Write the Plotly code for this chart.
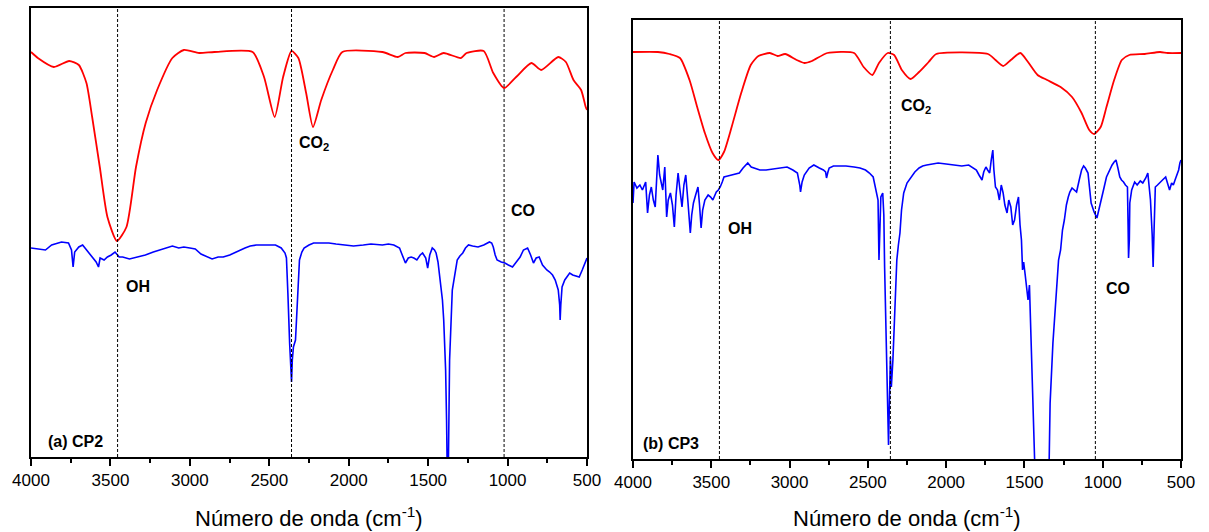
import plotly.graph_objects as go

W, H = 1209, 532

# ---------------- Data (transmittance, arbitrary units) ----------------
# Panel (a) CP2
cp2_red_wn = [4000, 3957, 3856, 3760, 3699, 3651, 3615, 3567, 3519, 3459, 3399, 3339, 3278, 3206,
              3110, 3038, 2942, 2846, 2605, 2533, 2466, 2413, 2360, 2317, 2268, 2225, 2173, 2100,
              2040, 1788, 1691, 1643, 1523, 1462, 1402, 1294, 1258, 1150, 1090, 1022, 946, 850,
              789, 681, 633, 585, 537, 508, 500]
cp2_red_y = [52, 58, 67, 61, 65, 83, 117, 167, 217, 241, 227, 167, 123, 90, 58, 50, 53, 52, 52, 77,
             117, 77, 51, 58, 93, 127, 100, 70, 52, 52, 57, 53, 53, 57, 53, 58, 53, 51, 73, 88, 77,
             63, 70, 57, 62, 80, 90, 107, 110]

cp2_blue_wn = [4000, 3960, 3909, 3870, 3808, 3764, 3745, 3735, 3725, 3699, 3675, 3650, 3615, 3590,
               3575, 3565, 3540, 3519, 3495, 3471, 3445, 3423, 3380, 3327, 3280, 3230, 3170, 3110,
               3070, 3038, 3000, 2966, 2930, 2894, 2860, 2822, 2790, 2749, 2700, 2653, 2620, 2581,
               2520, 2461, 2425, 2401, 2392, 2389, 2383, 2372, 2360, 2355, 2348, 2335, 2322, 2310,
               2295, 2281, 2250, 2221, 2180, 2125, 2080, 2028, 1970, 1908, 1860, 1788, 1750, 1716,
               1680, 1668, 1643, 1625, 1607, 1590, 1571, 1550, 1535, 1515, 1503, 1490, 1474, 1460,
               1450, 1438, 1426, 1410, 1402, 1390, 1384, 1380, 1373, 1365, 1348, 1330, 1317, 1300,
               1282, 1265, 1246, 1220, 1186, 1150, 1114, 1100, 1090, 1078, 1066, 1040, 1017, 995,
               969, 945, 921, 900, 874, 855, 837, 820, 801, 780, 753, 735, 717, 700, 681, 672, 669,
               665, 657, 640, 625, 609, 590, 570, 549, 530, 513, 500]
cp2_blue_y = [248, 249, 250, 245, 242, 243, 250, 267, 252, 247, 245, 250, 257, 262, 267, 258, 260,
              257, 255, 252, 257, 257, 259, 257, 255, 252, 249, 246, 248, 247, 248, 249, 254, 257,
              259, 257, 257, 255, 251, 248, 246, 245, 245, 245, 248, 253, 258, 267, 293, 343, 382,
              360, 347, 340, 293, 260, 252, 248, 245, 243, 243, 243, 244, 245, 246, 245, 244, 245,
              244, 245, 248, 253, 263, 258, 257, 258, 260, 255, 253, 258, 268, 255, 248, 250, 253,
              262, 277, 300, 320, 370, 420, 470, 470, 360, 290, 270, 260, 256, 253, 248, 245, 246,
              247, 245, 242, 243, 247, 255, 260, 262, 263, 265, 267, 262, 257, 250, 248, 255, 263,
              258, 257, 265, 270, 272, 275, 280, 290, 305, 320, 305, 287, 280, 276, 273, 275, 276,
              277, 270, 262, 258]

# Panel (b) CP3
cp3_red_wn = [4000, 3841, 3767, 3700, 3639, 3590, 3541, 3492, 3455, 3419, 3370, 3309, 3248, 3199,
              3126, 3077, 3028, 2955, 2906, 2857, 2759, 2588, 2527, 2471, 2429, 2373, 2332, 2283,
              2227, 2173, 2112, 2063, 1733, 1685, 1636, 1587, 1526, 1477, 1416, 1355, 1269, 1196,
              1135, 1086, 1054, 1013, 976, 927, 878, 830, 732, 634, 585, 500]
cp3_red_y = [52, 52, 54, 58, 80, 107, 133, 153, 160, 152, 127, 93, 65, 56, 53, 56, 54, 60, 63, 61,
             53, 53, 67, 75, 63, 53, 55, 70, 79, 72, 62, 54, 54, 60, 66, 60, 53, 62, 75, 80, 87,
             97, 113, 130, 134, 127, 107, 80, 60, 55, 54, 52, 53, 53]

cp3_blue_wn = [4000, 3993, 3975, 3956, 3940, 3919, 3907, 3895, 3883, 3870, 3858, 3850, 3841, 3830,
               3822, 3810, 3797, 3785, 3775, 3761, 3748, 3736, 3725, 3712, 3700, 3687, 3675, 3663,
               3650, 3634, 3625, 3614, 3600, 3585, 3575, 3565, 3555, 3541, 3520, 3504, 3490, 3468,
               3455, 3443, 3430, 3419, 3395, 3370, 3345, 3321, 3297, 3267, 3245, 3223, 3190, 3150,
               3110, 3077, 3045, 3016, 2979, 2950, 2935, 2930, 2920, 2906, 2875, 2845, 2810, 2784,
               2770, 2764, 2755, 2747, 2720, 2686, 2640, 2588, 2550, 2515, 2490, 2466, 2447, 2435,
               2429, 2423, 2417, 2405, 2398, 2393, 2385, 2378, 2368, 2362, 2356, 2350, 2340, 2330,
               2315, 2305, 2295, 2285, 2271, 2250, 2222, 2200, 2173, 2150, 2124, 2090, 2051, 2000,
               1953, 1900, 1856, 1830, 1807, 1790, 1771, 1760, 1746, 1735, 1722, 1712, 1702, 1695,
               1685, 1672, 1660, 1648, 1636, 1625, 1611, 1600, 1587, 1575, 1563, 1550, 1538, 1528,
               1519, 1512, 1505, 1495, 1485, 1477, 1468, 1460, 1453, 1441, 1433, 1343, 1336, 1318,
               1294, 1282, 1269, 1257, 1245, 1232, 1220, 1210, 1196, 1180, 1167, 1150, 1135, 1122,
               1111, 1094, 1085, 1074, 1055, 1037, 1025, 1013, 995, 976, 958, 940, 927, 915, 903,
               891, 880, 867, 855, 842, 838, 835, 830, 827, 815, 796, 780, 760, 744, 725, 712, 703,
               695, 684, 678, 672, 664, 650, 634, 618, 598, 585, 573, 560, 549, 538, 525, 515, 507,
               500]
cp3_blue_y = [203, 182, 188, 185, 190, 182, 213, 195, 187, 200, 207, 175, 155, 175, 180, 190, 167,
              217, 200, 193, 205, 227, 195, 173, 190, 207, 185, 175, 200, 233, 215, 203, 195, 187,
              205, 228, 210, 200, 195, 197, 200, 192, 190, 187, 182, 177, 176, 175, 174, 173, 168,
              163, 167, 168, 170, 170, 169, 168, 167, 167, 170, 173, 185, 192, 182, 175, 168, 165,
              168, 170, 172, 178, 172, 168, 166, 166, 166, 167, 168, 170, 173, 177, 190, 200, 260,
              220, 197, 193, 215, 267, 330, 373, 445, 400, 357, 387, 360, 320, 260, 245, 233, 210,
              193, 183, 177, 172, 168, 166, 165, 164, 163, 164, 165, 166, 165, 168, 170, 175, 180,
              172, 167, 170, 173, 160, 150, 170, 187, 190, 200, 185, 193, 205, 213, 200, 207, 225,
              220, 205, 197, 225, 240, 270, 262, 275, 290, 300, 285, 330, 367, 433, 470, 470, 403,
              343, 280, 260, 250, 230, 220, 205, 197, 192, 188, 190, 192, 180, 170, 166, 168, 173,
              185, 203, 212, 218, 210, 203, 190, 177, 170, 165, 162, 160, 168, 177, 180, 182, 185,
              187, 225, 258, 240, 203, 190, 182, 185, 181, 183, 178, 173, 185, 200, 235, 267, 230,
              187, 185, 182, 180, 177, 183, 190, 183, 185, 180, 175, 170, 163, 160]

# Marker lines (wavenumbers) and labels
cp2_marks = [3455, 2360, 1022]
cp3_marks = [3448, 2356, 1047]
x_ticks = [4000, 3500, 3000, 2500, 2000, 1500, 1000, 500]
x_title = "Número de onda (cm<sup>-1</sup>)"

# ---------------- Geometry (pixels) ----------------
L1, R1, T1, B1 = 31, 587, 8, 457
L2, R2, T2, B2 = 633, 1181, 20, 459

def to_val(ylist, bottom):
    return [bottom - v for v in ylist]

fig = go.Figure()
line_red = dict(color="#FF0000", width=1.8, shape="spline", smoothing=0.6)
line_blue = dict(color="#0000FF", width=1.6)

fig.add_trace(go.Scatter(x=cp2_red_wn, y=to_val(cp2_red_y, B1), mode="lines", line=line_red,
                         xaxis="x", yaxis="y", showlegend=False))
fig.add_trace(go.Scatter(x=cp2_blue_wn, y=to_val(cp2_blue_y, B1), mode="lines", line=line_blue,
                         xaxis="x", yaxis="y", showlegend=False))
fig.add_trace(go.Scatter(x=cp3_red_wn, y=to_val(cp3_red_y, B2), mode="lines", line=line_red,
                         xaxis="x2", yaxis="y2", showlegend=False))
fig.add_trace(go.Scatter(x=cp3_blue_wn, y=to_val(cp3_blue_y, B2), mode="lines", line=line_blue,
                         xaxis="x2", yaxis="y2", showlegend=False))

for xr, yr, marks in (("x", "y", cp2_marks), ("x2", "y2", cp3_marks)):
    for m in marks:
        fig.add_shape(type="line", xref=xr, yref=yr + " domain", x0=m, x1=m, y0=0, y1=1,
                      line=dict(color="black", width=1, dash="3px,2px"))

font_ax = "Liberation Sans, Arial, sans-serif"

def xax(l, r, anchor):
    return dict(domain=[l / W, r / W], range=[4000, 500], anchor=anchor, automargin=False,
                tickvals=x_ticks, ticks="outside", ticklen=7, tickwidth=1.5, tickcolor="black",
                minor=dict(ticks="outside", ticklen=4, tickwidth=1.5, tickcolor="black",
                           tick0=500, dtick=250),
                showline=True, linewidth=2, linecolor="black", mirror=True,
                showgrid=False, zeroline=False,
                tickfont=dict(family=font_ax, size=17, color="black"))

def yax(t, b, top_val, anchor):
    return dict(domain=[1 - b / H, 1 - t / H], range=[0, top_val], anchor=anchor, automargin=False,
                showticklabels=False, ticks="", showgrid=False, zeroline=False,
                showline=True, linewidth=2, linecolor="black", mirror=True)

fig.update_layout(
    width=W, height=H, margin=dict(l=0, r=0, t=0, b=0, autoexpand=False),
    paper_bgcolor="white", plot_bgcolor="white",
    xaxis=xax(L1, R1, "y"), yaxis=yax(T1, B1, B1 - T1, "x"),
    xaxis2=xax(L2, R2, "y2"), yaxis2=yax(T2, B2, B2 - T2, "x2"),
)

labels = [
    ("x", "y", 2326, 314, "CO<sub>2</sub>"),
    ("x", "y", 991, 247, "CO"),
    ("x", "y", 3415, 171, "OH"),
    ("x", "y", 3906, 16, "(a) CP2"),
    ("x2", "y2", 2301, 353, "CO<sub>2</sub>"),
    ("x2", "y2", 3406, 231, "OH"),
    ("x2", "y2", 992, 171, "CO"),
    ("x2", "y2", 3949, 16, "(b) CP3"),
]
for xr, yr, x, y, t in labels:
    fig.add_annotation(xref=xr, yref=yr, x=x, y=y, text="<b>" + t + "</b>", showarrow=False,
                       xanchor="left", yanchor="middle",
                       font=dict(family=font_ax, size=16, color="black"))

for l, r in ((L1, R1), (L2, R2)):
    fig.add_annotation(xref="paper", yref="paper", x=(l + r) / 2 / W, y=1 - 517 / H,
                       text=x_title, showarrow=False, xanchor="center", yanchor="middle",
                       font=dict(family=font_ax, size=22, color="black"))

fig.write_html("out.html")
